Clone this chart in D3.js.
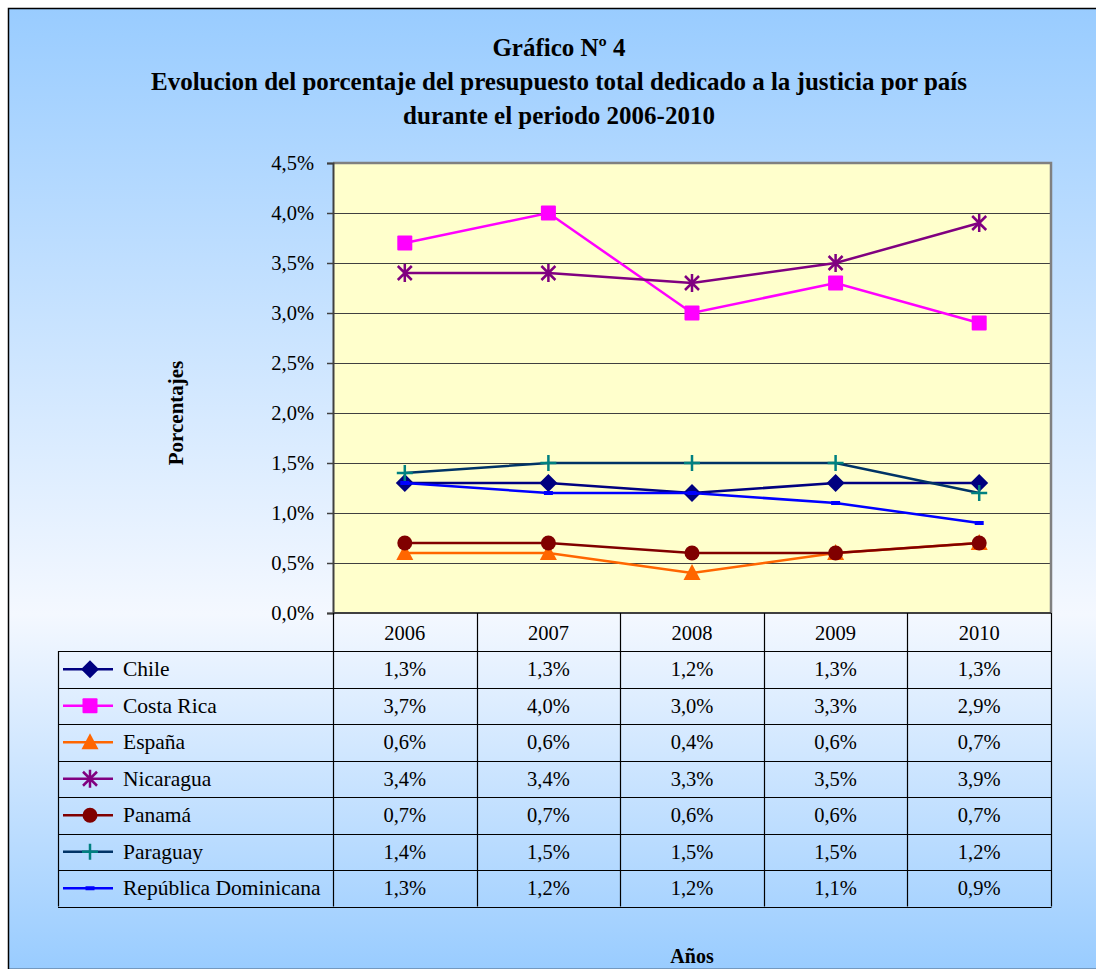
<!DOCTYPE html>
<html>
<head>
<meta charset="utf-8">
<script src="https://cdn.jsdelivr.net/npm/d3@7"></script>
<style>
body { margin: 0; background: #fff; }
text { font-family: "Liberation Serif", "Times New Roman", serif; }
</style>
</head>
<body>
<script>
var W = 1096, H = 969;

// data
var years = ["2006", "2007", "2008", "2009", "2010"];
var countries = ["Chile", "Costa Rica", "España", "Nicaragua", "Panamá", "Paraguay", "República Dominicana"];
var chile = [1.3, 1.3, 1.2, 1.3, 1.3];
var costaRica = [3.7, 4.0, 3.0, 3.3, 2.9];
var espana = [0.6, 0.6, 0.4, 0.6, 0.7];
var nicaragua = [3.4, 3.4, 3.3, 3.5, 3.9];
var panama = [0.7, 0.7, 0.6, 0.6, 0.7];
var paraguay = [1.4, 1.5, 1.5, 1.5, 1.2];
var repDom = [1.3, 1.2, 1.2, 1.1, 0.9];
var yTicks = [0, 0.5, 1.0, 1.5, 2.0, 2.5, 3.0, 3.5, 4.0, 4.5];

var values = [chile, costaRica, espana, nicaragua, panama, paraguay, repDom];
var lineColors = ["#000080", "#FF00FF", "#FF6600", "#800080", "#800000", "#003366", "#0000FF"];
var markColors = ["#000080", "#FF00FF", "#FF6600", "#800080", "#800000", "#008080", "#0000FF"];
var markTypes = ["diamond", "square", "triangle", "star", "circle", "plus", "dash"];

var fmt = function(v){ return v.toFixed(1).replace(".", ",") + "%"; };

var svg = d3.select("body").append("svg")
    .attr("width", W)
    .attr("height", H);

/** background gradient **/
var defs = svg.append("defs");
var grad = defs.append("linearGradient").attr("id", "bg")
    .attr("x1", 0).attr("y1", 0).attr("x2", 0).attr("y2", 1);
grad.append("stop").attr("offset", "0%").attr("stop-color", "#99CCFF");
grad.append("stop").attr("offset", "63%").attr("stop-color", "#F4F8FF");
grad.append("stop").attr("offset", "100%").attr("stop-color", "#99CCFF");

svg.append("rect")
    .attr("x", 8.5).attr("y", 8.5)
    .attr("width", W + 20).attr("height", H - 8)
    .attr("fill", "url(#bg)")
    .attr("stroke", "#000")
    .attr("stroke-width", 1.5);

/** title **/
var titleLines = ["Gráfico Nº 4",
  "Evolucion del porcentaje del presupuesto total dedicado a la justicia por país",
  "durante el periodo 2006-2010"];
svg.selectAll(".title").data(titleLines).enter().append("text")
    .attr("class", "title")
    .attr("x", 559)
    .attr("y", function(d, i){ return 56 + i * 34; })
    .attr("text-anchor", "middle")
    .attr("font-size", 25)
    .attr("font-weight", "bold")
    .text(function(d){ return d; });

/** plot area **/
var pLeft = 333, pRight = 1051, pTop = 163, pBottom = 613;
var x = d3.scaleBand().domain(years).range([pLeft, pRight]);
var y = d3.scaleLinear().domain([0, 4.5]).range([pBottom, pTop]);

svg.append("rect")
    .attr("x", pLeft).attr("y", pTop)
    .attr("width", pRight - pLeft).attr("height", pBottom - pTop)
    .attr("fill", "#FFFFCC");

// gridlines
svg.selectAll(".grid").data(yTicks.slice(1, -1)).enter().append("line")
    .attr("x1", pLeft).attr("x2", pRight)
    .attr("y1", function(d){ return Math.round(y(d)) + 0.5; })
    .attr("y2", function(d){ return Math.round(y(d)) + 0.5; })
    .attr("stroke", "#404040")
    .attr("stroke-width", 1);

// plot border top/right
svg.append("path")
    .attr("d", "M" + pLeft + "," + pTop + "H" + pRight + "V" + pBottom)
    .attr("fill", "none")
    .attr("stroke", "#808080")
    .attr("stroke-width", 2.5);

// y axis
var yAxis = d3.axisLeft(y)
    .tickValues(yTicks)
    .tickSize(6)
    .tickPadding(13)
    .tickFormat(fmt);
var ya = svg.append("g")
    .attr("transform", "translate(" + pLeft + ",0)")
    .call(yAxis);
ya.select(".domain").attr("stroke", "#404040").attr("stroke-width", 2);
ya.selectAll(".tick line").attr("stroke", "#404040").attr("stroke-width", 1.5);
ya.selectAll(".tick text")
    .attr("font-family", "Liberation Serif, Times New Roman, serif")
    .attr("font-size", 20.5)
    .attr("fill", "#000");

svg.append("line")
    .attr("x1", pLeft).attr("x2", pRight)
    .attr("y1", pBottom).attr("y2", pBottom)
    .attr("stroke", "#404040").attr("stroke-width", 2);

/** markers **/
function marker(g, type, color) {
  if (type == "diamond") {
    g.append("path").attr("d", "M0,-9L9,0L0,9L-9,0Z").attr("fill", color);
  } else if (type == "square") {
    g.append("rect").attr("x", -7.5).attr("y", -7.5).attr("width", 15).attr("height", 15)
      .attr("rx", 1).attr("fill", color);
  } else if (type == "triangle") {
    g.append("path").attr("d", "M0,-9L8.5,7L-8.5,7Z").attr("fill", color);
  } else if (type == "circle") {
    g.append("circle").attr("r", 7.5).attr("fill", color);
  } else if (type == "star") {
    g.append("path").attr("d", "M0,-9V9M-7,-7L7,7M-7,7L7,-7")
      .attr("stroke", color).attr("stroke-width", 2.5).attr("fill", "none");
  } else if (type == "plus") {
    g.append("path").attr("d", "M0,-8V8M-8,0H8")
      .attr("stroke", color).attr("stroke-width", 2.5).attr("fill", "none");
  } else if (type == "dash") {
    g.append("rect").attr("x", -4.5).attr("y", -2).attr("width", 9).attr("height", 4)
      .attr("fill", color);
  }
}

/** series lines **/
var line = d3.line()
    .x(function(d, i){ return x(years[i]) + x.bandwidth() / 2; })
    .y(function(d){ return y(d); });

values.forEach(function(vals, s){
  svg.append("path")
    .datum(vals)
    .attr("d", line)
    .attr("fill", "none")
    .attr("stroke", lineColors[s])
    .attr("stroke-width", 2.5);
  svg.selectAll(".m" + s).data(vals).enter().append("g")
    .attr("class", "m" + s)
    .attr("transform", function(d, i){
      return "translate(" + (x(years[i]) + x.bandwidth() / 2) + "," + y(d) + ")";
    })
    .each(function(){ marker(d3.select(this), markTypes[s], markColors[s]); });
});

/** data table **/
var tLeft = 58, headBottom = 651, rowH = 36.5;
var tBottom = headBottom + rowH * countries.length;
var tg = svg.append("g").attr("stroke", "#000").attr("stroke-width", 1.2);

// column separators
var colEdges = years.map(function(d){ return x(d); }).concat([pRight]);
tg.selectAll(".vcol").data(colEdges).enter().append("line")
    .attr("x1", function(d){ return Math.round(d) + 0.5; })
    .attr("x2", function(d){ return Math.round(d) + 0.5; })
    .attr("y1", pBottom).attr("y2", tBottom);
tg.append("line").attr("x1", tLeft + 0.5).attr("x2", tLeft + 0.5)
    .attr("y1", headBottom).attr("y2", tBottom);
// row separators
var rowEdges = d3.range(countries.length + 1).map(function(i){ return headBottom + i * rowH; });
tg.selectAll(".hrow").data(rowEdges).enter().append("line")
    .attr("x1", tLeft).attr("x2", pRight + 0.5)
    .attr("y1", function(d){ return Math.round(d) + 0.5; })
    .attr("y2", function(d){ return Math.round(d) + 0.5; });

// year header
svg.selectAll(".yr").data(years).enter().append("text")
    .attr("x", function(d){ return x(d) + x.bandwidth() / 2; })
    .attr("y", 640)
    .attr("text-anchor", "middle")
    .attr("font-size", 20.5)
    .text(function(d){ return d; });

// legend keys and values
countries.forEach(function(c, s){
  var cy = headBottom + rowH * s + rowH / 2;
  svg.append("line")
    .attr("x1", 63).attr("x2", 113)
    .attr("y1", cy).attr("y2", cy)
    .attr("stroke", lineColors[s]).attr("stroke-width", 2.5);
  marker(svg.append("g").attr("transform", "translate(90," + cy + ")"), markTypes[s], markColors[s]);
  svg.append("text")
    .attr("x", 123).attr("y", cy + 7)
    .attr("font-size", 21.5)
    .text(c);
  svg.selectAll(".v" + s).data(values[s]).enter().append("text")
    .attr("x", function(d, i){ return x(years[i]) + x.bandwidth() / 2; })
    .attr("y", cy + 7)
    .attr("text-anchor", "middle")
    .attr("font-size", 20.5)
    .text(fmt);
});

/** axis titles **/
svg.append("text")
    .attr("transform", "translate(183,413) rotate(-90)")
    .attr("text-anchor", "middle")
    .attr("font-size", 21)
    .attr("font-weight", "bold")
    .text("Porcentajes");

svg.append("text")
    .attr("x", 692).attr("y", 963)
    .attr("text-anchor", "middle")
    .attr("font-size", 20)
    .attr("font-weight", "bold")
    .text("Años");
</script>
</body>
</html>
